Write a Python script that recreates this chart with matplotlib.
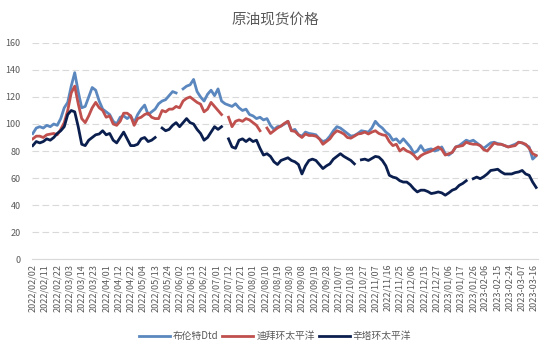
import numpy as np
import matplotlib
matplotlib.use("Agg")
import matplotlib.pyplot as plt

plt.rcParams['font.family'] = ['Noto Sans CJK SC', 'DejaVu Sans']

nan = np.nan

tick_labels = [
    "2022/02/02", "2022/02/11", "2022/02/22", "2022/03/03", "2022/03/14", "2022/03/23",
    "2022/04/01", "2022/04/12", "2022/04/22", "2022/05/04", "2022/05/13", "2022/05/24",
    "2022/06/02", "2022/06/13", "2022/06/22", "2022/07/01", "2022/07/12", "2022/07/21",
    "2022/08/01", "2022/08/10", "2022/08/19", "2022/08/30", "2022/09/08", "2022/09/19",
    "2022/09/28", "2022/10/07", "2022/10/18", "2022/10/27", "2022/11/07", "2022/11/16",
    "2022/11/25", "2022/12/06", "2022/12/15", "2022/12/27", "2023/01/06", "2023/01/17",
    "2023/01/26", "2023-02-06", "2023-02-15", "2023-02-24", "2023-03-07", "2023-03-16",
]

brent = [
    92.9, 97, 98, 97, 99, 98, 100, 99, 104, 112, 116, 128, 138, 124, 112, 113, 120, 127, 125, 117,
    111, 109, 107, 102, 100, 105, 106, 104, 106, 101, 107, 111, 114, 107, 109, 111, 115, 117, 118, 121,
    124, 123, nan, 126, 128, 129, 133, 124, 120, 117, 122, 125, 121, 126, 117, 115, 114, 113, 115, 112,
    110, 111, 107, 106, 104, 105, 103, 104, 99, 96, 98, 98.5, 100, 102, 95, 96, 92, 91, 94, 93,
    92.6, 92, 89, 87, 88, 91, 95, 98, 97, 95, 93, 91, 91.5, 93, 95, 94.5, 94, 97, 102, 99,
    97, 94, 92, 88, 89, 86, 89, 86, 83, 78.5, 80, 84, 80, 81, 81.6, 80, 81, 83, 78, 77,
    79, 83, 84, 86, 88, 87, 88, 86, 84, 82, 84, 86, 86.5, 85.5, 85, 84, 83, 84, 85, 86.5,
    86, 84.5, 83, 74, 76.5,
]

dubai = [
    89, 91, 91, 90, 92, 92.5, 93, 92, 96, 101, 110, 123, 128, 115, 104, 101, 106, 112, 116, 112,
    110, 105, 106, 100, 99, 102, 108, 108, 106, 99, 104, 105, 107, 108, 105, 104, 104, 110, 109, 111,
    111, 113, 112, 117, 119, 120, 118, 116, 114.7, 109, 111, 116, 113, 110, 107, nan, 105, 98, 102, 103,
    102, 104, 103, 101, 99, 95, nan, 97, 93, 95, 97, 98.5, 100.5, 102, 95, 94.5, 92, 90, 92.6, 91.5,
    91.5, 91, 89, 85, 87, 89, 92.6, 95, 94, 92.6, 90, 89.5, 91, 92.6, 93, 94, 92.6, 94, 95, 93,
    92, 91.5, 87, 84, 85, 80, 82, 80, 79, 77, 74, 76.5, 78, 79, 80, 81.6, 83, 81, 77, 78,
    79, 83, 83.5, 84, 86.5, 85.5, 85, 85, 84, 81, 80, 83, 86, 85, 85, 84, 83, 83.5, 84, 86.5,
    86, 85, 82, 78, 76.7,
]

cinta = [
    84, 87, 86, 87, 89, 88, 90, 93, 95, 98, 107, 110, 109, 98, 85, 84, 88, 90, 92, 92.6,
    95, 92, 93, 88, 86, 90, 94, 89, 84, 84, 85, 89, 90, 87, 88, 90, nan, 97, 95, 96,
    99, 101, 98, 101, 104, 101, 100, 96, 93, 88, 90, 94, 98, 96, 98, nan, 89, 83, 82, 88,
    89, 87, 89, 87, 88, 82, 77, 78, 76, 72, 70, 73, 74, 75, 73, 72, 70, 63, 69, 73,
    74, 73, 70, 67, 69, 70.5, 74, 76, 78, 76, 74.5, 73, 70.5, nan, 73.5, 74, 73, 74.5, 76, 75.5,
    73, 69, 62, 60.7, 60, 58, 57, 57, 55, 52, 49.7, 51, 51, 50, 48.5, 49, 49.7, 49, 47.3, 49,
    51, 52, 54.6, 56, 58, nan, 59.5, 60.7, 59.5, 61, 63, 65.6, 66, 66.5, 64.5, 63, 63, 63, 64, 64.5,
    65.6, 63, 62, 57, 53,
]

series_names = ["布伦特Dtd", "迪拜环太平洋", "辛塔环太平洋"]
colors = ["#5b87bf", "#c0504d", "#0b1f4f"]

fig = plt.figure(figsize=(5.5, 3.52), dpi=100)
ax = fig.add_axes([0.058, 0.264, 0.92, 0.614])

x = np.arange(len(brent)) * 2
for vals, name, c in zip([brent, dubai, cinta], series_names, colors):
    ax.plot(x, vals, color=c, lw=2.0, label=name, solid_joinstyle='round')

ax.set_ylim(0, 160)
ax.set_xlim(-0.5, 289)
ax.set_yticks(range(0, 161, 20))
ax.yaxis.grid(True, color="#d9d9d9", linestyle=(0, (6, 3)), linewidth=0.8)
ax.set_axisbelow(True)
for s in ["top", "right", "left"]:
    ax.spines[s].set_visible(False)
ax.spines["bottom"].set_color("#d9d9d9")
ax.tick_params(axis="both", length=0, colors="#595959", labelsize=6.5)
ax.tick_params(axis="y", pad=8)
ax.set_xticks(np.arange(len(tick_labels)) * 7)
ax.set_xticklabels(tick_labels, rotation=90, fontsize=6.5, color="#595959")

fig.text(0.5, 0.945, "原油现货价格", ha="center", va="center", fontsize=10.5, color="#595959")

leg = fig.legend(loc="center", bbox_to_anchor=(0.5, 0.045), ncol=3, frameon=False,
                 fontsize=7, handlelength=3.2, columnspacing=0.4, handletextpad=0.3)
for t in leg.get_texts():
    t.set_color("#595959")

fig.savefig("out.png", dpi=100)
